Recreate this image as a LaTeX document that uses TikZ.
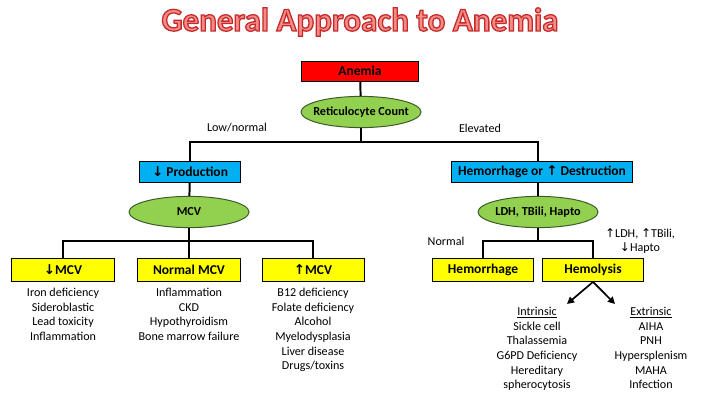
\documentclass[tikz,border=0pt]{standalone}
\usepackage{fontspec}
\setmainfont{Carlito}
\newfontfamily\arrfont{DejaVu Sans}
\usetikzlibrary{arrows.meta}

\definecolor{boxred}{RGB}{255,0,0}
\definecolor{boxblue}{RGB}{0,176,240}
\definecolor{boxgreen}{RGB}{146,208,80}
\definecolor{edgegreen}{RGB}{60,90,40}
\definecolor{boxyellow}{RGB}{255,255,0}
\definecolor{titlefill}{RGB}{242,140,136}

\newcommand{\ardown}{{\arrfont\char"2193}}
\newcommand{\arup}{{\arrfont\char"2191}}
\newcommand{\ovaltext}[1]{\makebox[0pt]{#1}}
\newcommand{\outlinetext}[1]{{\color{titlefill}\special{pdf:literal direct 0.78 0.16 0.16 RG 2 Tr 0.9 w}#1\special{pdf:literal direct 0 Tr}}}

\tikzset{
  stepbox/.style={draw=black, line width=0.7pt, inner sep=0pt, font=\fontsize{9.6}{11}\selectfont\bfseries},
  testoval/.style={ellipse, draw=edgegreen, line width=0.7pt, fill=boxgreen, inner sep=0pt,
    minimum width=3cm, minimum height=0.78cm, font=\fontsize{8.7}{10}\selectfont\bfseries},
  causebox/.style={stepbox, fill=boxyellow, minimum width=2.55cm, minimum height=0.57cm},
  causelist/.style={align=center, inner sep=0pt, anchor=north, font=\fontsize{8.6}{10.4}\selectfont},
  branchlbl/.style={inner sep=0pt, font=\fontsize{8.6}{10}\selectfont},
  link/.style={line width=1.4pt},
}
\usetikzlibrary{shapes.geometric}

\begin{document}
\begin{tikzpicture}[x=0.025cm, y=-0.025cm]
    \useasboundingbox (0,0) rectangle (720,405);
    \node (title) at (360,22) {\fontsize{23.5}{26}\selectfont\bfseries\outlinetext{General Approach to Anemia}};
    % top of the tree
    \node[stepbox, fill=boxred, minimum width=2.9cm, minimum height=0.5cm] (anemia) at (360,71) {Anemia};
    \node[testoval] (retic) at (361,112) {\ovaltext{Reticulocyte Count}};
    \draw[link] (anemia) -- (retic);
    \node[branchlbl] (lowlbl) at (237,128) {Low/normal};
    \node[branchlbl] (elevlbl) at (480,128) {Elevated};
    \coordinate (jtop) at (361,142);
    % production side
    \node[stepbox, fill=boxblue, minimum width=2.5cm, minimum height=0.53cm] (prod) at (190,172) {\ardown{} Production};
    \node[testoval] (mcv) at (189,212) {\ovaltext{MCV}};
    \draw[link] (retic) -- (jtop);
    \draw[link] (jtop) -| (prod.north);
    \draw[link] (prod) -- (mcv);
    \coordinate (jmcv) at (189,241);
    \node[causebox] (micro) at (63,270) {\ardown{}MCV};
    \node[causebox] (normo) at (189,270) {Normal MCV};
    \node[causebox] (macro) at (313,270) {\arup{}MCV};
    \draw[link] (mcv) -- (jmcv);
    \draw[link] (micro.north) |- (jmcv) -| (macro.north);
    \draw[link] (jmcv) -- (normo.north);
    \node[causelist] (microlist) at (63,288) {Iron deficiency\\Sideroblastic\\Lead toxicity\\Inflammation};
    \node[causelist] (normolist) at (189,288) {Inflammation\\CKD\\Hypothyroidism\\Bone marrow failure};
    \node[causelist] (macrolist) at (313,288) {B12 deficiency\\Folate deficiency\\Alcohol\\Myelodysplasia\\Liver disease\\Drugs/toxins};
    % destruction side
    \node[stepbox, fill=boxblue, minimum width=4.53cm, minimum height=0.53cm] (destr) at (542,172) {Hemorrhage or \arup{} Destruction};
    \node[testoval] (lab) at (538,212) {\ovaltext{LDH, TBili, Hapto}};
    \draw[link] (jtop) -| (lab.north |- destr.north);
    \draw[link] (lab.north |- destr.south) -- (lab);
    \coordinate (jlab) at (538,241);
    \node[causebox, minimum width=2.53cm] (bleed) at (483,270) {Hemorrhage};
    \node[causebox, minimum width=2.53cm] (lysis) at (593,270) {Hemolysis};
    \draw[link] (lab) -- (jlab);
    \draw[link] (bleed.north) |- (jlab) -| (lysis.north);
    \node[branchlbl] (normlbl) at (446,241) {Normal};
    \node[branchlbl, align=center] (hilbl) at (640,241) {\arup{}LDH, \arup{}TBili,\\\ardown{}Hapto};
    \coordinate (intip) at (567,304);
    \coordinate (extip) at (615,304);
    \draw[line width=1.2pt, -{Triangle[length=5pt,width=5pt]}] (lysis.south) -- (intip);
    \draw[line width=1.2pt, -{Triangle[length=5pt,width=5pt]}] (lysis.south) -- (extip);
    \node[causelist] (intlist) at (537,307) {\underline{Intrinsic}\\Sickle cell\\Thalassemia\\G6PD Deficiency\\Hereditary\\spherocytosis};
    \node[causelist] (extlist) at (651,307) {\underline{Extrinsic}\\AIHA\\PNH\\Hypersplenism\\MAHA\\Infection};
\end{tikzpicture}
\end{document}
